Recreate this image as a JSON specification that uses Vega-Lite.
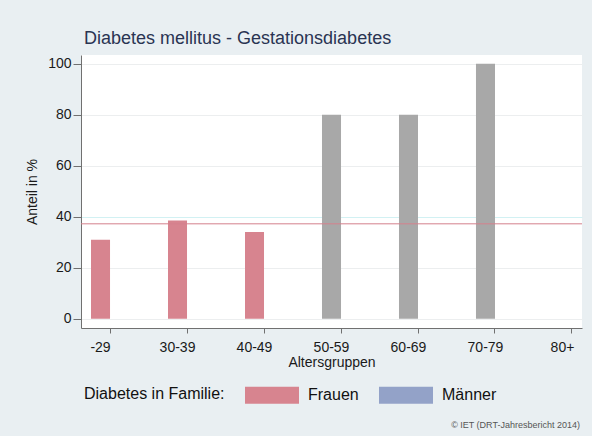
{
  "$schema": "https://vega.github.io/schema/vega-lite/v6.json",
  "width": 501,
  "height": 273,
  "autosize": {"type": "none"},
  "padding": {"left": 81, "top": 55, "right": 10, "bottom": 108},
  "background": "#e9eff2",
  "config": {
    "font": "Liberation Sans",
    "view": {"fill": "#ffffff", "stroke": null}
  },
  "title": {
    "text": "Diabetes mellitus - Gestationsdiabetes",
    "anchor": "start",
    "frame": "group",
    "fontSize": 18,
    "fontWeight": "normal",
    "color": "#2a3452",
    "baseline": "alphabetic",
    "offset": -7,
    "dx": 3
  },
  "datasets": {
    "balken": [
      {"altersgruppe": "-29", "anteil": 31.0, "gruppe": "Frauen"},
      {"altersgruppe": "30-39", "anteil": 38.5, "gruppe": "Frauen"},
      {"altersgruppe": "40-49", "anteil": 34.0, "gruppe": "Frauen"},
      {"altersgruppe": "50-59", "anteil": 80, "gruppe": "Frauen (geringe Fallzahl)"},
      {"altersgruppe": "60-69", "anteil": 80, "gruppe": "Frauen (geringe Fallzahl)"},
      {"altersgruppe": "70-79", "anteil": 100, "gruppe": "Frauen (geringe Fallzahl)"}
    ],
    "referenz": [{"wert": 37.2}],
    "quelle": [{"text": "© IET (DRT-Jahresbericht 2014)"}]
  },
  "layer": [
    {
      "data": {"name": "balken"},
      "mark": {"type": "bar"},
      "encoding": {
        "x": {
          "field": "altersgruppe",
          "type": "nominal",
          "sort": null,
          "scale": {
            "domain": ["-29", "30-39", "40-49", "50-59", "60-69", "70-79", "80+"],
            "paddingInner": 0.753,
            "paddingOuter": 0.13
          },
          "axis": {
            "title": "Altersgruppen",
            "labelAngle": 0,
            "bandPosition": 1,
            "tickSize": 5,
            "labelPadding": 7,
            "labelFontSize": 14,
            "labelColor": "#1a1a1a",
            "titleFontSize": 14,
            "titleFontWeight": "normal",
            "titleColor": "#1a1a1a",
            "titlePadding": 1,
            "domainColor": "#707070",
            "tickColor": "#707070",
            "grid": false
          }
        },
        "y": {
          "field": "anteil",
          "type": "quantitative",
          "scale": {"domain": [-3.65, 103.4], "nice": false, "zero": false},
          "axis": {
            "values": [0, 20, 40, 60, 80, 100],
            "title": "Anteil in %",
            "titleFontSize": 14,
            "titleFontWeight": "normal",
            "titleColor": "#1a1a1a",
            "titlePadding": 8,
            "labelFontSize": 14,
            "labelColor": "#1a1a1a",
            "labelPadding": 2,
            "tickSize": 8,
            "tickColor": "#707070",
            "domainColor": "#707070",
            "grid": true,
            "gridColor": {"condition": {"test": "datum.value === 40", "value": "#d2f1f3"}, "value": "#eceeef"}
          }
        },
        "y2": {"datum": 0},
        "color": {
          "field": "gruppe",
          "type": "nominal",
          "scale": {
            "domain": ["Frauen", "Männer", "Frauen (geringe Fallzahl)"],
            "range": ["#d7848f", "#93a2c8", "#a8a8a8"]
          },
          "legend": {
            "orient": "none",
            "legendX": 3,
            "legendY": 313,
            "direction": "horizontal",
            "values": ["Frauen", "Männer"],
            "title": "Diabetes in Familie:",
            "titleOrient": "left",
            "titleAnchor": "middle",
            "titleBaseline": "top",
            "titleFontSize": 16,
            "titleFontWeight": "normal",
            "titleColor": "#111111",
            "titlePadding": 20,
            "labelFontSize": 16,
            "labelColor": "#111111",
            "labelOffset": 9,
            "columnPadding": 20,
            "padding": 0,
            "symbolType": "M-1,-0.315H1V0.315H-1Z",
            "symbolSize": 2916,
            "symbolStrokeWidth": 0,
            "symbolOpacity": 1
          }
        }
      }
    },
    {
      "data": {"name": "referenz"},
      "mark": {"type": "rule", "color": "#d4808c", "strokeWidth": 1},
      "encoding": {"y": {"field": "wert", "type": "quantitative"}}
    },
    {
      "data": {"name": "quelle"},
      "mark": {"type": "text", "align": "right", "baseline": "alphabetic", "fontSize": 9, "color": "#555555", "dx": -2, "dy": 100},
      "encoding": {
        "text": {"field": "text"},
        "x": {"value": "width"},
        "y": {"value": "height"}
      }
    }
  ]
}
